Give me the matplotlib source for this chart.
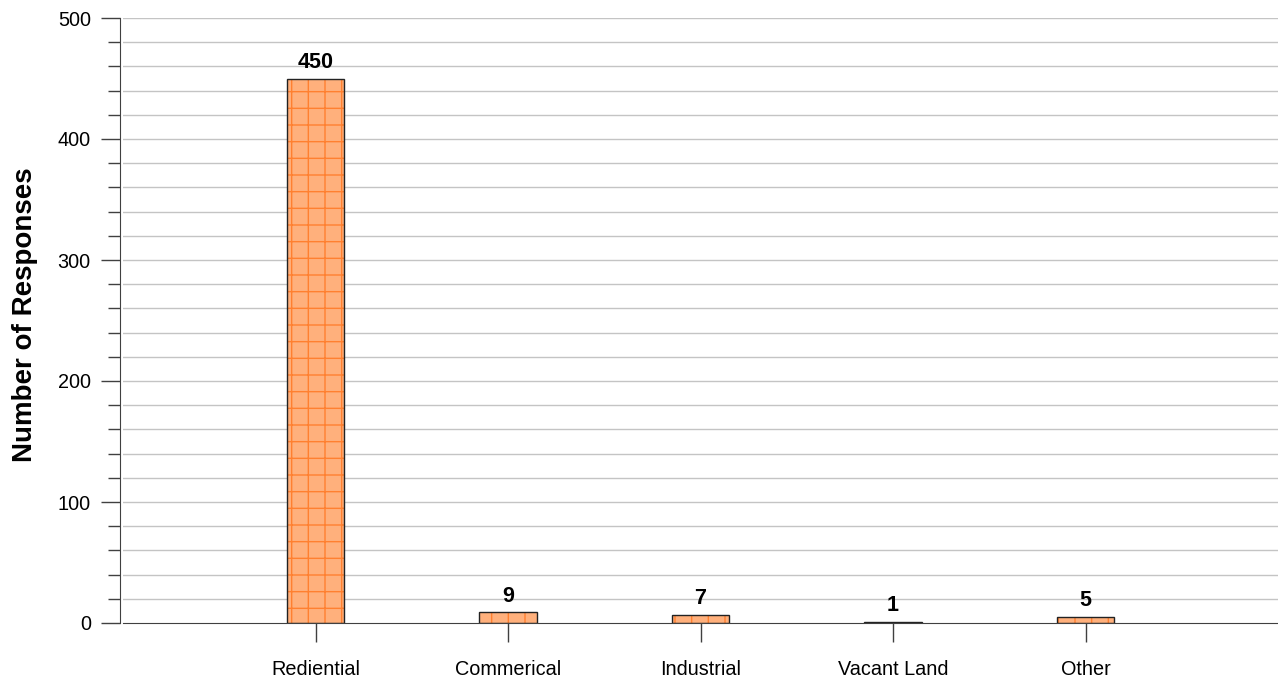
import matplotlib
matplotlib.use("Agg")
import matplotlib.pyplot as plt
from matplotlib.ticker import MultipleLocator

categories = ["Rediential", "Commerical", "Industrial", "Vacant Land", "Other"]
responses = [450, 9, 7, 1, 5]
y_ticks = [0, 100, 200, 300, 400, 500]

plt.rcParams["font.family"] = ["Liberation Sans", "DejaVu Sans"]
plt.rcParams["hatch.linewidth"] = 1.0

W, H, DPI = 1278, 688, 100
fig = plt.figure(figsize=(W / DPI, H / DPI), dpi=DPI)
ax = fig.add_axes([123 / W, (H - 623) / H, 1 - 123 / W, (623 - 18) / H])

x = list(range(len(categories)))
bar_w = 0.3

# gridlines every 20 responses
for v in range(20, 501, 20):
    ax.axhline(v, color="#c4c4c4", linewidth=1.0, zorder=0)

# hatched orange fill, then a dark outline on top
ax.bar(x, responses, width=bar_w, color="#ffb07c", edgecolor="#ff8030",
       hatch="+", linewidth=0, zorder=2)
ax.bar(x, responses, width=bar_w, facecolor="none", edgecolor="#222222",
       linewidth=1.0, zorder=3)

for xi, v in zip(x, responses):
    ax.annotate(f"{v}", (xi, v), xytext=(0, 4), textcoords="offset points",
                ha="center", va="bottom", fontsize=15.5, fontweight="bold",
                zorder=4)

ax.set_xlim(-1, len(categories))
ax.set_ylim(0, 500)

ax.set_xticks(x)
ax.set_xticklabels(categories)
ax.set_yticks(y_ticks)
ax.set_yticklabels([str(t) for t in y_ticks])
ax.yaxis.set_minor_locator(MultipleLocator(20))

ax.tick_params(axis="x", direction="out", length=13.5, width=1.0,
               color="#404040", pad=13, labelsize=14.3)
ax.tick_params(axis="y", which="major", direction="out", length=14,
               width=1.0, color="#404040", pad=7, labelsize=14.3)
ax.tick_params(axis="y", which="minor", direction="out", length=8.5,
               width=1.0, color="#404040")

for s in ["top", "right"]:
    ax.spines[s].set_visible(False)
ax.spines["left"].set_position(("outward", 2.2))
ax.spines["left"].set_color("#404040")
ax.spines["bottom"].set_color("#404040")
ax.spines["bottom"].set_zorder(5)

ax.set_ylabel("Number of Responses", fontsize=20, fontweight="bold")
ax.yaxis.set_label_coords(-0.074, 0.51)

fig.savefig("out.png", dpi=DPI)
